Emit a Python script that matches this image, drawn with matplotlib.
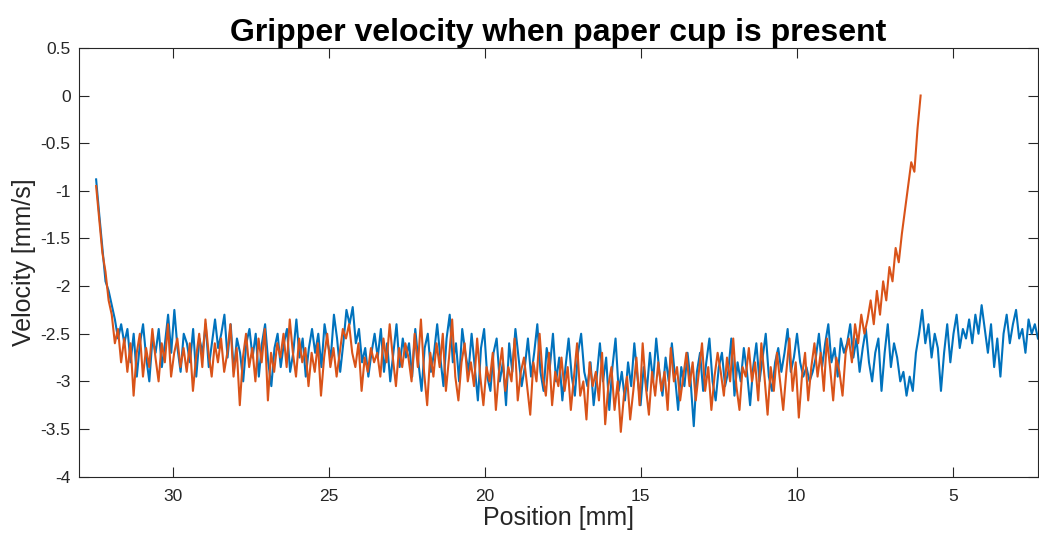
import numpy as np
import matplotlib
matplotlib.use('Agg')
import matplotlib.pyplot as plt

# Velocity traces, roughly 10 samples per mm,
# listed from the start of the stroke (32.45 mm) towards the end.
blue_start, blue_end = 32.45, 2.27
blue_velocity = [
    -0.88, -1.25, -1.6, -1.95, -2.05, -2.2, -2.35, -2.55, -2.4, -2.6,
    -2.45, -2.8, -2.5, -2.95, -2.6, -2.4, -2.75, -3.0, -2.55, -2.7,
    -2.45, -2.85, -2.6, -2.3, -2.7, -2.25, -2.65, -2.9, -2.5, -2.6,
    -2.8, -2.45, -2.95, -2.55, -2.7, -2.4, -2.85, -2.6, -2.35, -2.65,
    -2.5, -2.3, -2.75, -2.4, -2.9, -2.55, -2.7, -3.0, -2.6, -2.45,
    -2.75, -2.5, -2.95, -2.6, -2.4, -2.8, -3.05, -2.65, -2.5, -2.85,
    -2.6, -2.45, -2.9, -2.7, -2.35, -2.75, -2.55, -2.95, -2.65, -2.45,
    -2.7, -2.5, -2.85, -2.4, -2.6, -2.75, -2.3, -2.55, -2.9, -2.6,
    -2.25, -2.4, -2.22, -2.6, -2.45, -2.8, -2.65, -2.95, -2.7, -2.5,
    -2.75, -2.45, -2.9, -2.6, -3.0, -2.7, -2.4, -2.85, -2.55, -2.75,
    -2.6, -2.95, -2.45, -2.8, -3.1, -2.65, -2.5, -2.9, -2.7, -2.4,
    -2.75, -3.05, -2.55, -2.3, -2.8, -2.6, -3.0, -2.45, -2.7, -2.9,
    -2.5, -2.85, -3.2, -2.65, -2.45, -2.95, -3.1, -2.7, -2.55, -3.0,
    -2.8, -3.25, -2.6, -2.9, -2.45, -2.75, -3.05, -2.85, -2.55, -2.95,
    -2.7, -2.4, -2.9, -3.1, -2.65, -2.85, -2.5, -3.0, -2.75, -3.2,
    -2.85, -2.55, -2.95, -3.15, -2.7, -2.5, -2.9, -3.05, -2.8, -3.25,
    -2.95, -2.6, -3.0, -2.75, -3.3, -2.85, -2.55, -3.1, -2.9, -3.2,
    -2.8, -3.05, -2.6, -2.95, -3.25, -2.85, -3.1, -2.7, -3.0, -2.55,
    -2.9, -3.15, -2.75, -3.0, -2.6, -2.95, -3.3, -2.85, -3.05, -2.7,
    -3.0, -3.47, -2.9, -2.7, -3.1, -2.8, -2.55, -3.0, -3.2, -2.85,
    -2.7, -3.05, -2.9, -2.55, -3.15, -2.8, -3.0, -2.65, -2.9, -3.25,
    -2.85, -2.6, -3.0, -2.75, -2.5, -2.95, -3.1, -2.8, -2.65, -2.9,
    -2.7, -2.45, -2.9, -2.75, -2.5, -2.8, -2.95, -2.85, -3.0, -2.9,
    -2.75, -2.5, -2.85, -2.6, -2.4, -2.8, -2.65, -2.95, -2.55, -2.7,
    -2.6, -2.4, -2.75, -2.55, -2.9, -2.65, -2.45, -2.8, -3.0, -2.7,
    -2.55, -3.1, -2.7, -2.4, -2.85, -2.6, -2.75, -3.0, -2.9, -3.15,
    -2.95, -3.1, -2.7, -2.5, -2.25, -2.6, -2.4, -2.75, -2.5, -2.65,
    -3.1, -2.7, -2.4, -2.8, -2.5, -2.3, -2.65, -2.45, -2.55, -2.35,
    -2.6, -2.3, -2.5, -2.2, -2.45, -2.7, -2.4, -2.85, -2.55, -2.95,
    -2.5, -2.3, -2.6, -2.4, -2.25, -2.55, -2.45, -2.7, -2.35, -2.5,
    -2.4, -2.55,
]

orange_start, orange_end = 32.45, 6.03
orange_velocity = [
    -0.95, -1.3, -1.65, -1.85, -2.15, -2.3, -2.6, -2.45, -2.8, -2.55,
    -2.9, -2.6, -3.15, -2.7, -2.5, -2.95, -2.65, -2.85, -2.45, -2.75,
    -3.0, -2.6, -2.8, -2.4, -2.95, -2.7, -2.55, -2.85, -2.65, -2.9,
    -2.6, -3.1, -2.75, -2.5, -2.85, -2.35, -2.7, -2.95, -2.6, -2.8,
    -2.55, -2.9, -2.7, -2.4, -2.95, -2.65, -3.25, -2.75, -2.5, -2.85,
    -2.65, -3.0, -2.55, -2.8, -2.45, -3.2, -2.7, -2.9, -2.6, -2.75,
    -2.5, -2.85, -2.35, -2.7, -2.95, -2.55, -2.8, -2.65, -3.05, -2.7,
    -2.9, -2.6, -3.15, -2.75, -2.5, -2.85, -2.65, -2.95, -2.7, -2.45,
    -2.55, -2.4, -2.7, -2.85, -2.6, -3.1, -2.75, -2.9, -2.65, -2.8,
    -2.7, -2.95, -2.55, -2.8, -2.4, -2.75, -3.05, -2.65, -2.85, -2.6,
    -2.75, -3.0, -2.5, -2.85, -2.35, -2.9, -3.25, -2.7, -2.95, -2.6,
    -2.85, -2.5, -3.1, -2.75, -2.35, -2.95, -3.2, -2.8, -2.6, -3.0,
    -2.8, -3.05, -2.55, -2.95, -3.25, -2.85, -3.0, -2.7, -3.3, -2.9,
    -2.65, -3.1, -2.85, -3.0, -2.55, -3.2, -2.9, -2.75, -3.05, -3.35,
    -2.8, -3.0, -2.5, -2.95, -3.15, -2.7, -3.25, -2.9, -3.05, -2.75,
    -3.1, -2.85, -3.3, -2.95, -2.6, -3.15, -3.0, -3.4, -2.8, -3.05,
    -2.9, -3.2, -2.7, -3.45, -3.05, -2.85, -3.3, -3.0, -3.53, -3.15,
    -2.95, -3.4, -3.1, -2.75, -3.25, -2.6, -3.05, -3.35, -2.9, -3.15,
    -2.8, -3.1, -2.9, -3.3, -2.65, -3.0, -2.85, -3.2, -2.95, -2.7,
    -3.05, -2.8, -3.2, -2.9, -2.6, -3.1, -2.85, -3.3, -2.95, -2.7,
    -2.9, -3.15, -2.75, -3.0, -2.55, -3.05, -3.3, -2.85, -2.95, -2.65,
    -3.0, -2.8, -3.2, -2.6, -2.95, -3.35, -2.85, -3.1, -2.7, -3.0,
    -3.3, -2.9, -2.55, -3.1, -2.8, -3.38, -2.95, -2.7, -3.2, -2.85,
    -2.6, -2.95, -2.7, -3.1, -2.55, -2.85, -3.2, -2.75, -2.9, -3.15,
    -2.7, -2.55, -2.8, -2.4, -2.6, -2.3, -2.5, -2.35, -2.15, -2.4,
    -2.05, -2.3, -1.95, -2.15, -1.8, -1.95, -1.6, -1.75, -1.45, -1.2,
    -0.95, -0.7, -0.8, -0.35, 0.0,
]

blue_position = np.linspace(blue_start, blue_end, len(blue_velocity))
orange_position = np.linspace(orange_start, orange_end, len(orange_velocity))

x_ticks = [30, 25, 20, 15, 10, 5]
y_ticks = [-4, -3.5, -3, -2.5, -2, -1.5, -1, -0.5, 0, 0.5]
y_labels = ['-4', '-3.5', '-3', '-2.5', '-2', '-1.5', '-1', '-0.5', '0', '0.5']

plt.rcParams['font.family'] = ['Liberation Sans', 'DejaVu Sans']
axis_color = '#262626'

fig = plt.figure(figsize=(10.39, 5.38), dpi=100)
ax = fig.add_axes([0.076, 0.114, 0.923, 0.797])

ax.plot(blue_position, blue_velocity, color='#0072BD', lw=1.5)
ax.plot(orange_position, orange_velocity, color='#D95319', lw=1.5)

ax.set_xlim(33.0, 2.27)
ax.set_ylim(-4, 0.5)
ax.set_xticks(x_ticks)
ax.set_yticks(y_ticks)
ax.set_yticklabels(y_labels)

ax.tick_params(direction='in', length=7, width=0.8, colors=axis_color,
               labelsize=12.5, top=True, right=True)
ax.tick_params(axis='x', pad=9)
ax.tick_params(axis='y', pad=6)
for s in ax.spines.values():
    s.set_color(axis_color)
    s.set_linewidth(0.8)

ax.set_xlabel('Position [mm]', fontsize=18, color=axis_color, labelpad=1)
ax.set_ylabel('Velocity [mm/s]', fontsize=18, color=axis_color, labelpad=3)
ax.set_title('Gripper velocity when paper cup is present', fontsize=23,
             fontweight='bold', pad=5)

fig.savefig('out.png', dpi=100)
